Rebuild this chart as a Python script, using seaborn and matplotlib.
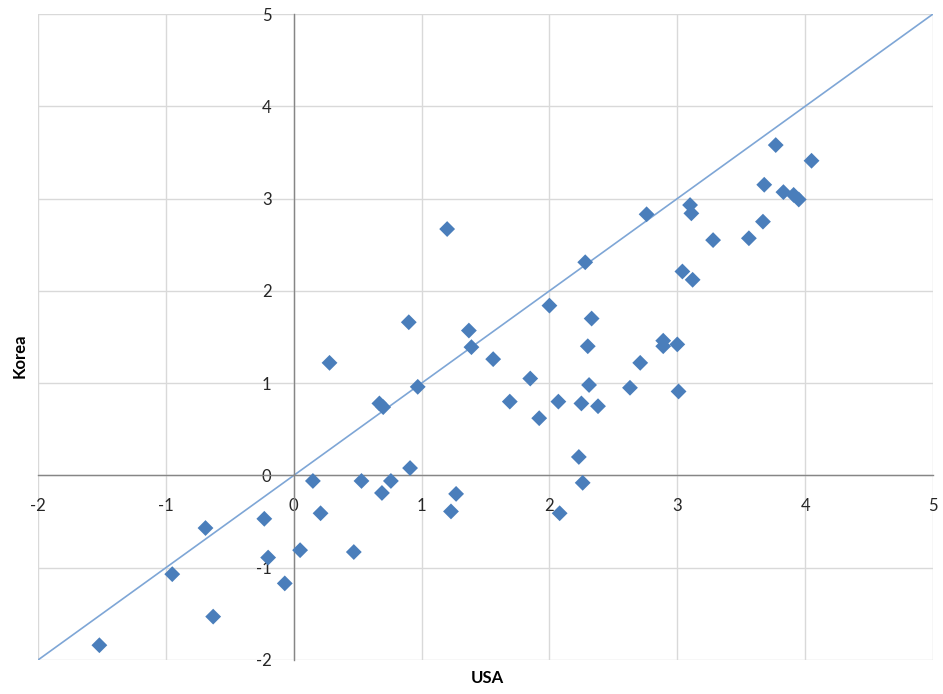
import numpy as np
import pandas as pd
import matplotlib
matplotlib.use("Agg")
import matplotlib.pyplot as plt
import seaborn as sns

usa = [-1.52, -0.95, -0.69, -0.63, -0.23, -0.20, -0.07, 0.05, 0.15, 0.21,
       0.28, 0.47, 0.53, 0.67, 0.70, 0.69, 0.76, 0.90, 0.91, 0.97,
       1.20, 1.23, 1.27, 1.37, 1.39, 1.56, 1.69, 1.85, 1.92, 2.00,
       2.07, 2.08, 2.23, 2.25, 2.26, 2.28, 2.30, 2.31, 2.33, 2.38,
       2.63, 2.71, 2.76, 2.89, 2.89, 3.00, 3.01, 3.04, 3.10, 3.11,
       3.12, 3.28, 3.56, 3.67, 3.68, 3.77, 3.83, 3.91, 3.95, 4.05]
korea = [-1.84, -1.07, -0.57, -1.53, -0.47, -0.89, -1.17, -0.81, -0.06, -0.41,
         1.22, -0.83, -0.06, 0.78, 0.74, -0.19, -0.06, 1.66, 0.08, 0.96,
         2.67, -0.39, -0.20, 1.57, 1.39, 1.26, 0.80, 1.05, 0.62, 1.84,
         0.80, -0.41, 0.20, 0.78, -0.08, 2.31, 1.40, 0.98, 1.70, 0.75,
         0.95, 1.22, 2.83, 1.46, 1.40, 1.42, 0.91, 2.21, 2.93, 2.84,
         2.12, 2.55, 2.57, 2.75, 3.15, 3.58, 3.07, 3.04, 2.99, 3.41]
ref_line = [-2, 5]
ticks = [-2, -1, 0, 1, 2, 3, 4, 5]

df = pd.DataFrame({"USA": usa, "Korea": korea})

sns.set_theme(style="white")
plt.rcParams['font.family'] = ['Lato', 'DejaVu Sans']
plt.rcParams['axes.unicode_minus'] = False

fig = plt.figure(figsize=(9.43, 6.94), dpi=100)
ax = fig.add_axes([0.0403, 0.049, 0.9491, 0.9308])

sns.lineplot(x=ref_line, y=ref_line, ax=ax, color="#7ea6d6", linewidth=1.2, zorder=2)
sns.scatterplot(data=df, x="USA", y="Korea", ax=ax, marker="D", s=65,
                color="#4a7ebb", edgecolor="none", linewidth=0, zorder=3)

ax.set_xlim(-2, 5)
ax.set_ylim(-2, 5)
ax.set_xticks(ticks)
ax.set_yticks(ticks)
ax.set_xticklabels([str(t) for t in ticks])
ax.set_yticklabels([str(t) for t in ticks])
ax.grid(True, color="#d9d9d9", linewidth=1.0, zorder=0)
ax.set_axisbelow(True)

for side in ["top", "right"]:
    ax.spines[side].set_visible(False)
ax.spines["left"].set_position(("data", 0))
ax.spines["bottom"].set_position(("data", 0))
ax.spines["left"].set_color("#868686")
ax.spines["bottom"].set_color("#868686")
ax.spines["left"].set_linewidth(1.0)
ax.spines["bottom"].set_linewidth(1.0)
ax.tick_params(axis="both", which="major", direction="out", length=5, width=1,
               color="#868686", labelsize=12, labelcolor="#262626", pad=11)

ax.set_xlabel("")
ax.set_ylabel("")
fig.text(0.517, 0.023, "USA", ha="center", va="center", fontsize=12, fontweight="bold", color="#000000")
fig.text(0.021, 0.488, "Korea", ha="center", va="center", rotation=90, fontsize=12, fontweight="bold", color="#000000")

fig.savefig("out.png", dpi=100)
